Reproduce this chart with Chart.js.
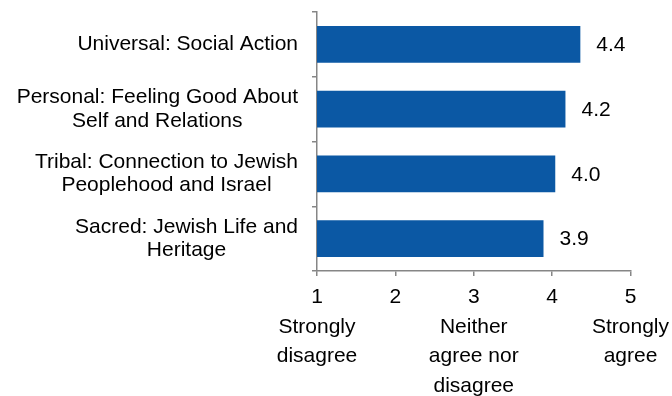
<!DOCTYPE html>
<html>
<head>
<meta charset="utf-8">
<script src="https://cdn.jsdelivr.net/npm/chart.js@4/dist/chart.umd.min.js"></script>
<style>
  html, body { margin: 0; padding: 0; background: #fff; }
  #wrap { width: 672px; height: 396px; }
</style>
</head>
<body>
<div id="wrap"><canvas id="chart" width="672" height="396"></canvas></div>
<script>
// Mean agreement on a 1-5 scale, one bar per dimension
const categories = [
    ["Universal: Social Action"],
    ["Personal: Feeling Good About", "Self and Relations"],
    ["Tribal: Connection to Jewish", "Peoplehood and Israel"],
    ["Sacred: Jewish Life and", "Heritage"],
];
const meanScores = [4.36, 4.17, 4.04, 3.89];

// Likert anchors shown under the numeric ticks
const scalePoints = [1, 2, 3, 4, 5];
const scaleAnchors = [
    ["Strongly", "disagree"],
    [],
    ["Neither", "agree nor", "disagree"],
    [],
    ["Strongly", "agree"],
];

const FONT_FAMILY = "'Liberation Sans', Arial, sans-serif";
const AXIS_GREY = "#868686";
const BAR_BLUE = "#0B58A4";

// Category labels: each block right-aligned, its lines centred within the block
const categoryLabels = {
    id: "categoryLabels",
    afterDraw(chart) {
        const { ctx } = chart;
        const yScale = chart.scales.y;
        const lineHeight = 23.5;
        const right = yScale.right - 5 - 14;
        ctx.save();
        ctx.font = `21px ${FONT_FAMILY}`;
        ctx.fillStyle = "#000";
        ctx.textAlign = "center";
        ctx.textBaseline = "middle";
        categories.forEach((lines, i) => {
            const yMid = yScale.getPixelForTick(i);
            const width = Math.max(...lines.map((l) => ctx.measureText(l).width));
            const xMid = right - width / 2;
            lines.forEach((line, j) => {
                ctx.fillText(line, xMid, yMid + (j - (lines.length - 1) / 2) * lineHeight);
            });
        });
        ctx.restore();
    },
};

// Value printed just past the end of each bar
const valueLabels = {
    id: "valueLabels",
    afterDatasetsDraw(chart) {
        const { ctx } = chart;
        ctx.save();
        ctx.font = `21px ${FONT_FAMILY}`;
        ctx.fillStyle = "#000";
        ctx.textAlign = "left";
        ctx.textBaseline = "middle";
        chart.getDatasetMeta(0).data.forEach((bar, i) => {
            ctx.fillText(meanScores[i].toFixed(1), bar.x + 16, bar.y + 1);
        });
        ctx.restore();
    },
};

new Chart(document.getElementById("chart"), {
    type: "bar",
    data: {
        labels: categories,
        datasets: [{
            data: meanScores,
            backgroundColor: BAR_BLUE,
            borderWidth: 0,
            categoryPercentage: 1,
            barPercentage: 0.57,
        }],
    },
    plugins: [categoryLabels, valueLabels],
    options: {
        indexAxis: "y",
        responsive: false,
        animation: false,
        layout: {
            padding: { top: 12, right: 41.5, bottom: 0, left: 0 },
        },
        plugins: {
            legend: { display: false },
            tooltip: { enabled: false },
        },
        scales: {
            x: {
                min: 1,
                max: 5,
                afterBuildTicks: (scale) => {
                    scale.ticks = scalePoints.map((v) => ({ value: v }));
                },
                afterFit: (scale) => {
                    scale.height = 125;
                    scale.paddingLeft = 0;
                    scale.paddingRight = 0;
                },
                grid: {
                    drawOnChartArea: false,
                    drawTicks: true,
                    tickLength: 5,
                    color: AXIS_GREY,
                    lineWidth: 1.5,
                },
                border: { display: true, color: AXIS_GREY, width: 1.5 },
                ticks: {
                    padding: 7,
                    color: "#000",
                    autoSkip: false,
                    maxRotation: 0,
                    font: { family: FONT_FAMILY, size: 21, lineHeight: 1.4 },
                    callback: (value) => {
                        const idx = scalePoints.indexOf(value);
                        return [String(value), ...(scaleAnchors[idx] || [])];
                    },
                },
            },
            y: {
                afterFit: (scale) => {
                    scale.width = 317;
                },
                grid: {
                    drawOnChartArea: false,
                    drawTicks: true,
                    tickLength: 5,
                    offset: true,
                    color: AXIS_GREY,
                    lineWidth: 1.5,
                },
                border: { display: true, color: AXIS_GREY, width: 1.5 },
                ticks: { display: false },
            },
        },
    },
});
</script>
</body>
</html>
